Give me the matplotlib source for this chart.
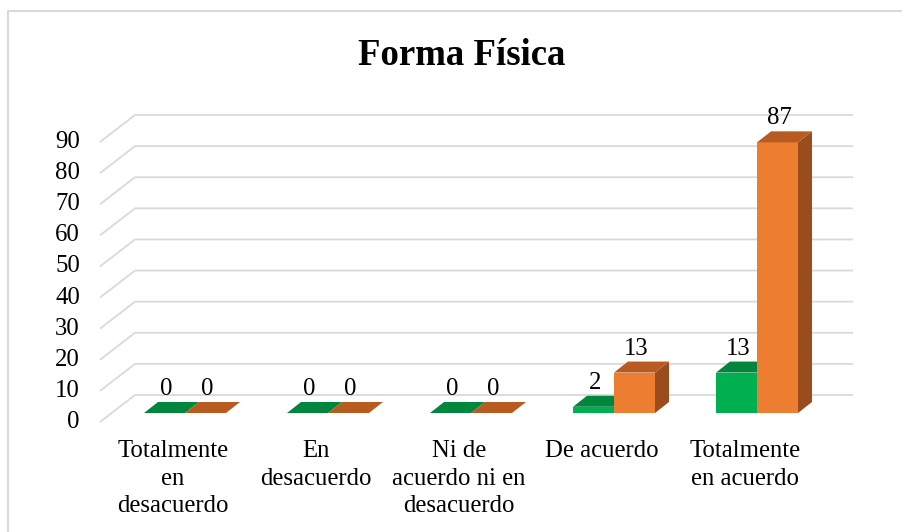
import matplotlib
matplotlib.use("Agg")
import matplotlib.pyplot as plt
from matplotlib.patches import Polygon
from matplotlib.lines import Line2D

# ---- data ----
title = "Forma Física"
categories = ["Totalmente\nen\ndesacuerdo", "En\ndesacuerdo",
              "Ni de\nacuerdo ni en\ndesacuerdo", "De acuerdo",
              "Totalmente\nen acuerdo"]
serie_verde = [0, 0, 0, 2, 13]
serie_naranja = [0, 0, 0, 13, 87]
y_ticks = [0, 10, 20, 30, 40, 50, 60, 70, 80, 90]

# ---- layout (pixels) ----
W, H = 902, 532
pitch = 143.0      # px per category
ppu = 3.111        # px per value unit
x0 = 185.0         # px of first category centre
base = 413.0       # px (from top) of bar-plane zero

fig = plt.figure(figsize=(W / 100, H / 100), dpi=100)
ax = fig.add_axes([0, 0, 1, 1])
ax.set_xlim((0 - x0) / pitch, (W - x0) / pitch)
ax.set_ylim((base - H) / ppu, base / ppu)
ax.axis("off")

font = ["Liberation Serif", "DejaVu Serif"]
fs = 17.8

def dxp(p):
    return p / pitch

def dyp(p):
    return p / ppu

# floor / wall offsets relative to bar plane
fdx, fdy = dxp(-12), dyp(-9)
bdx, bdy = dxp(23), dyp(18)
wall_left = dxp(112 - x0)
wall_right = dxp(853 - x0)

for t in y_ticks:
    ax.plot([wall_left + fdx, wall_left + bdx, wall_right],
            [t + fdy, t + bdy, t + bdy], color="#d9d9d9", lw=1.3,
            zorder=1, solid_capstyle="butt")
    ax.text(dxp(80 - x0), t + fdy, str(t), ha="right", va="center",
            fontsize=fs, family=font, color="#000000")

# bars
bw = dxp(41)
ddx, ddy = dxp(14), dyp(11)
series = [
    (serie_verde, -1, ("#00b050", "#00863d", "#007a37")),
    (serie_naranja, 0, ("#ed7d31", "#b75b20", "#9b4c1c")),
]
for vals, off, (cf, ct, cs) in series:
    for i, h in enumerate(vals):
        xl = i + off * bw
        xr = xl + bw
        if h > 0:
            ax.bar(xl, h, width=bw, align="edge", color=cf, zorder=3,
                   linewidth=0)
            ax.add_patch(Polygon([(xr, 0), (xr + ddx, ddy), (xr + ddx, h + ddy), (xr, h)],
                                 closed=True, facecolor=cs, edgecolor="none", zorder=3))
        ax.add_patch(Polygon([(xl, h), (xr, h), (xr + ddx, h + ddy), (xl + ddx, h + ddy)],
                             closed=True, facecolor=ct, edgecolor="none", zorder=3))
        ax.text((xl + xr) / 2 + dxp(2), h + dyp(24), str(h), ha="center", va="center",
                fontsize=fs, family=font, color="#000000", zorder=4)

# category labels
for i, c in enumerate(categories):
    ax.text(i + fdx, dyp(413 - 440), c,
            ha="center", va="top", multialignment="center", linespacing=1.33,
            fontsize=fs, family=font, color="#000000")

# title
ax.text(dxp(462 - x0), dyp(base - 65), title, ha="center", va="baseline",
        fontsize=26.5, fontweight="bold", family=font, color="#000000")

# chart border
fig.add_artist(Line2D([8 / W, 8 / W, 1], [0, 1 - 11 / H, 1 - 11 / H],
                      transform=fig.transFigure, color="#d9d9d9", lw=1.5))

fig.savefig("out.png", dpi=100, facecolor="white")
